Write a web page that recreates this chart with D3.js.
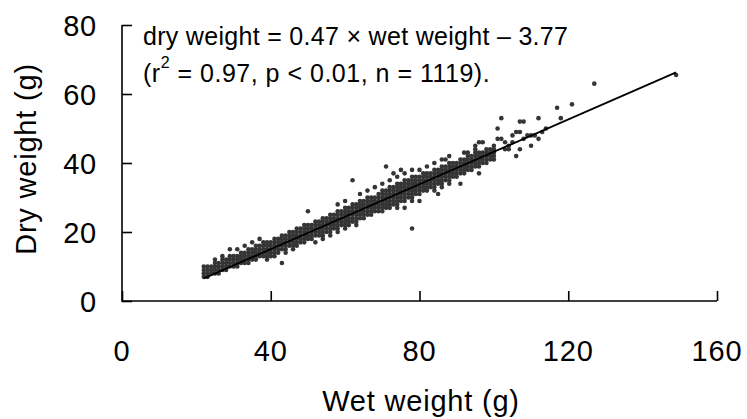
<!DOCTYPE html>
<html>
<head>
<meta charset="utf-8">
<script src="https://cdn.jsdelivr.net/npm/d3@7"></script>
<style>
  body { margin: 0; background: #fff; }
  text { font-family: "Liberation Sans", Arial, sans-serif; fill: #000; }
</style>
</head>
<body>
<script>
var wetValues = [22,23,24,25,26,27,28,29,30,31,32,33,34,35,36,37,38,39,40,41,42,43,44,45,46,47,48,49,50,
  51,52,53,54,55,56,57,58,59,60,61,62,63,64,65,66,67,68,69,70,71,72,73,74,75,76,77,78,79,80,
  81,82,83,84,85,86,87,88,89,90,91,92,93,94,95,96,97,98,99,100];
var dryValues = [
  [7,8,9,10],[7,8,9,10],[8,9,10],[8,9,10,11],[8,9,10,11],[9,10,11,12],[9,10,11,12],[10,11,12,13],
  [10,11,12,13],[10,11,12,13],[11,12,13,14],[11,12,13,14],[11,12,13,14,15],[12,13,14,15],
  [12,13,14,15,16],[13,14,15,16],[13,14,15,16,17],[13,14,15,16,17],[13,14,15,16,17],
  [14,15,16,17,18],[14,15,16,17,18],[15,16,17,18,19],[15,16,17,18,19],[16,17,18,19,20],
  [16,17,18,19,20],[16,17,18,19,20,21],[17,18,19,20,21],[17,18,19,20,21,22],[18,19,20,21,22],
  [18,19,20,21,22],[19,20,21,22,23],[19,20,21,22,23],[19,20,21,22,23,24],[20,21,22,23,24],
  [20,21,22,23,24,25],[21,22,23,24,25],[21,22,23,24,25,26],[22,23,24,25,26],[22,23,24,25,26,27],
  [22,23,24,25,26,27],[23,24,25,26,27,28],[23,24,25,26,27,28],[24,25,26,27,28,29],
  [24,25,26,27,28,29],[25,26,27,28,29,30],[25,26,27,28,29,30],[26,27,28,29,30],
  [26,27,28,29,30,31],[27,28,29,30,31,32],[27,28,29,30,31,32],[28,29,30,31,32,33],
  [28,29,30,31,32,33],[28,29,30,31,32,33,34],[29,30,31,32,33,34],[29,30,31,32,33,34,35],
  [30,31,32,33,34,35],[30,31,32,33,34,35,36],[31,32,33,34,35,36],[31,32,33,34,35,36],
  [32,33,34,35,36,37],[32,33,34,35,36,37],[33,34,35,36,37],[33,34,35,36,37,38],[34,35,36,37,38],
  [34,35,36,37,38,39],[35,36,37,38,39],[35,36,37,38,39,40],[36,37,38,39,40],[37,38,39,40],
  [37,38,39,40,41],[38,39,40,41],[38,39,40,41,42],[39,40,41,42],[39,40,41,42,43],[40,41,42,43],
  [40,41,42,43],[41,42,43,44],[41,42,43,44],[42,43,44,45]
];
// scattered points away from the dense band [wet, dry]
var scattered = [[25,12],[27,13],[29,15],[31,15],[33,16],[35,17],[37,18],[39,12],[41,13],[43,11],
  [44,14],[46,15],[50,26],[52,17],[54,18],[56,19],[58,20],[58,28],[60,21],[60,29],[62,35],
  [63,22],[64,31],[66,32],[68,33],[70,26],[70,34],[71,39],[72,27],[72,35],[73,37],[74,27],
  [74,36],[75,38],[76,27],[76,37],[78,21],[78,29],[78,38],[80,29],[80,38],[82,39],[84,32],
  [84,40],[85,31],[86,33],[86,41],[87,41],[88,34],[88,42],[90,36],[91,34],[92,37],[92,43],
  [93,43],[94,38],[95,40],[95,44],[95,45],[96,37],[96,39],[96,46],[97,46],[98,40],[100,41],
  [101,47],[101,50],[102,47],[102,53],[103,44],[103,46],[104,44],[104,45],[105,46],[105,48],
  [106,42],[106,49],[107,44],[107,49],[107,52],[108,47],[108,52],[109,48],[110,45],[110,48],
  [111,48],[112,47],[112,53],[113,49],[114,50],[117,56],[118,53],[121,57],[127,63],[149,65.5]];

var fitSlope = 0.47, fitIntercept = -3.77, fitRange = [22, 149];
var xTicks = [0, 40, 80, 120, 160];
var yTicks = [0, 20, 40, 60, 80];

var w = 747, h = 419;
var svg = d3.select("body").append("svg").attr("width", w).attr("height", h);

var x = d3.scaleLinear().domain([0, 160]).range([122, 717]);
var y = d3.scaleLinear().domain([0, 80]).range([301, 25]);

// flatten points
var points = [];
wetValues.forEach(function (wv, i) {
  dryValues[i].forEach(function (dv) { points.push([wv, dv]); });
});
points = points.concat(scattered);

svg.append("g").selectAll("circle")
  .data(points)
  .enter()
  .append("circle")
  .attr("cx", function (d) { return x(d[0]); })
  .attr("cy", function (d) { return y(d[1]); })
  .attr("r", 2.3)
  .attr("fill", "#353535");

// regression line
svg.append("line")
  .attr("x1", x(fitRange[0])).attr("y1", y(fitSlope * fitRange[0] + fitIntercept))
  .attr("x2", x(fitRange[1])).attr("y2", y(fitSlope * fitRange[1] + fitIntercept))
  .attr("stroke", "#000").attr("stroke-width", 1.8);

// axes (ticks point inwards)
var xAxis = d3.axisTop(x).tickValues(xTicks).tickSize(10).tickFormat("");
var yAxis = d3.axisRight(y).tickValues(yTicks).tickSize(10).tickFormat("");

var gx = svg.append("g").attr("transform", "translate(0,301)").call(xAxis);
var gy = svg.append("g").attr("transform", "translate(122,0)").call(yAxis);
[gx, gy].forEach(function (g) {
  g.select(".domain").remove();
  g.selectAll("line").attr("stroke", "#000").attr("stroke-width", 1.6);
});
svg.append("line").attr("x1", 122).attr("x2", 717).attr("y1", 301).attr("y2", 301)
  .attr("stroke", "#000").attr("stroke-width", 1.6);
svg.append("line").attr("x1", 122).attr("x2", 122).attr("y1", 25).attr("y2", 301.8)
  .attr("stroke", "#000").attr("stroke-width", 1.6);

// tick labels
svg.selectAll(".xl")
  .data(xTicks)
  .enter()
  .append("text")
  .attr("x", function (d) { return x(d); })
  .attr("y", 361)
  .attr("text-anchor", "middle")
  .attr("font-size", "29px")
  .attr("letter-spacing", "0.8px")
  .text(function (d) { return d; });

svg.selectAll(".yl")
  .data(yTicks)
  .enter()
  .append("text")
  .attr("x", 97)
  .attr("y", function (d) { return y(d) + 11; })
  .attr("text-anchor", "end")
  .attr("font-size", "29px")
  .attr("letter-spacing", "0.8px")
  .text(function (d) { return d; });

// axis titles
svg.append("text")
  .attr("x", 421).attr("y", 411)
  .attr("text-anchor", "middle")
  .attr("font-size", "29px")
  .attr("letter-spacing", "0.8px")
  .text("Wet weight (g)");

svg.append("text")
  .attr("transform", "translate(36,159) rotate(-90)")
  .attr("text-anchor", "middle")
  .attr("font-size", "29px")
  .attr("letter-spacing", "0.8px")
  .text("Dry weight (g)");

// equation
svg.append("text")
  .attr("x", 143).attr("y", 45)
  .attr("font-size", "25px")
  .attr("letter-spacing", "0.3px")
  .text("dry weight = 0.47 \u00d7 wet weight \u2013 3.77");

var t2 = svg.append("text")
  .attr("x", 143).attr("y", 82)
  .attr("font-size", "25px")
  .attr("letter-spacing", "0.5px");
t2.append("tspan").text("(r");
t2.append("tspan").attr("font-size", "16px").attr("dy", -14).text("2");
t2.append("tspan").attr("dy", 14).text(" = 0.97, p < 0.01, n = 1119).");
</script>
</body>
</html>
